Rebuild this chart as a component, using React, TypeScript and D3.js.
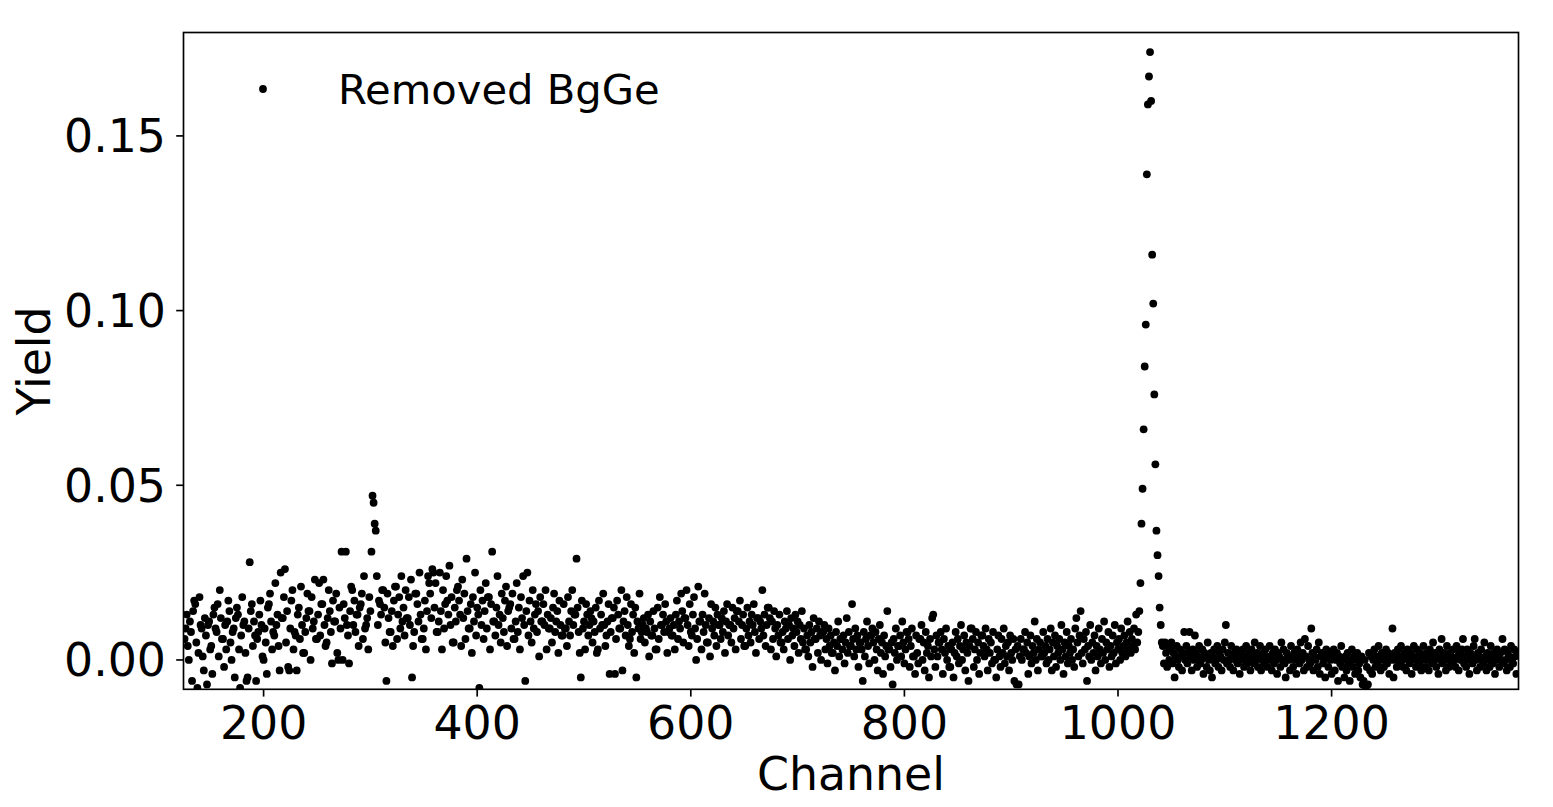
import React from "react";
import * as d3 from "d3";

// Each segment starts at the given channel, one value per channel.

const bgLowStart = 126;
const bgLow = [
  6, 9, 13, 4, 0, 11, 8, -6, 14, 17, 16, 5, -8, 2, 18, 10, 9, 1, -3, 12, 7, -7, 10, 11, 3,
  4, -4, 13, 15, 9, 8, 16, 1, 20, 12, 6, 6, -2, 10, 3, 11, 17, 14, 5, 0, 8, 9, -5, 12, 15,
  13, 3, -8, 7, 18, 10, 11, 2, -6, -5, 9, 28, 14, 16, 4, 11, 7, -6, 6, 8, 13, 17, 10, 1, 0,
  9, 5, -4, 15, 16, 19, 11, 3, 8, 7, 22, 10, 13, 4, -3, 25, 12, 12, 18, 26, 5, 14, -2, -3, 9,
  17, 20, 3, 8, 7, -3, 13, 15, 6, 21, 10, 2, 2, 8, 12, 19, 14, 14, 0, 18, 9, 11, 23, 6, 6,
  13, 22, 7, 16, 16, 23, 10, 4, 5, 12, 20, 14, 8, -1, 17, 11, 11, 19, 2, 0, 15, 9, 31, 0, 16,
  12, 31, 10, 7, -1, 14, 21, 20, 10, 17, 8, 13, 13, 4, 15, 16, 19, 6, 24, 9, 10, 12, 3, 18, 14,
];

const bumpStart = 301;
const bump = [31, 47, 45, 39, 37];

const bgMidStart = 306;
const bgMid = [
  24, 10, 17, 16, 13, 20, 20, 15, 5, -6, 19, 12, 8, 8, 14, 4, 17, 21, 21, 6, 13, 18, 9, 24, 11,
  15, 7, 20, 12, 12, 18, 10, 23, -5, 4, 8, 19, 19, 16, 11, 25, 13, 6, 6, 9, 17, 3, 14, 24, 22,
  19, 12, 26, 25, 15, 22, 8, 8, 11, 25, 14, 3, 20, 9, 16, 24, 17, 13, 27, 10, 18, 5, 5, 15, 11,
  20, 21, 17, 13, 4, 23, 12, 19, 6, 29, 14, 9, 9, 16, 2, 18, 11, 25, 7, 15, 13, -8, 20, 10, 17,
  6, 14, 22, 9, 18, 18, 3, 16, 31, 11, 11, 7, 15, 24, 10, 13, 5, 19, 12, 8, 17, 21, 4, 14, 15,
  16, 9, 19, 6, 6, 11, 22, 8, 15, 3, 18, 12, 24, 10, -6, 14, 25, 7, 17, 11, 5, 20, 9, 13, 16,
  8, 14, 1, 18, 11, 11, 16, 10, 20, 3, 13, 9, 9, 12, 5, 15, 19, 8, 11, 14, 2, 17, 10, 7, 7,
  16, 9, 9, 4, 18, 11, 7, 14, 20, 10, 13, 13, 29, 15, 8, 2, -5, 17, 9, 11, 3, 16, 13, 7, 10,
  14, 12, 5, 11, 8, 15, 2, 3, 17, 9, 13, 10, 19, 10, 4, 7, 11, 16, -4, 8, 12, 12, 15, -4, 6,
  17, 13, 9, 9, 20, -3, 11, 14, 7, 18, 10, 4, 6, 16, 8, 13, 2, 15, -5, 11, 9, 19, 6, 8, 10,
  12, 5, 9, 8, 13, 1, 11, 7, 7, 14, 9, 3, 3, 15, 6, 18, 10, 10, 13, 8, 16, 11, 2, 8, 9,
  12, 7, 7, 10, 3, 13, 17, 6, 11, 9, 19, 14, 5, 12, 12, 20, 10, 4, 16, 8, 7, 13, 18, 9, 0,
  6, 21, 11, 11, 3, 13, 8, 19, 10, 5, 5, 12, 1, 16, 9, 11, 7, 15, 4, 13, 10, 10, 6, 12, 8,
  14, 2, 11, 16, 7, 10, 10, 5, 15, 9, 12, 3, 14, 14, 11, 17, 6, 10, 13, 4, 4, 9, 15, 7, 11,
  5, 13, 10, 16, 8, 2, 12, 12, 6, 11, 9, 20, 7, 13, 4, 10, 15, 15, 12, 3, 11, 6, 14, 9, 1,
  10, 7, 13, 5, 5, 8, 3, 11, 9, 14, 6, 10, 0, 12, 7, 9, 4, 13, 8, 11, 2, 10, 6, 14, 5,
  9, 3, 3, 7, 1, 10, 5, 8, -2, 12, 6, 6, 9, 2, 11, 7, 0, 8, 8, 10, 3, 6, -1, 9, 4,
  7, 2, 2, 5, -3, 8, 4, 11, 1, 6, 6, 3, 7, -1, 5, 12, 2, 8, 4, 4, 16, 6, 1, 9, 3,
  7, -2, 5, 5, 3, -6, 8, 1, 6, 11, 4, -1, 7, 7, 9, 5, 0, 8, 3, -3, 6, 10, 2, 5, -4,
  7, 1, 4, 14, 3, 3, -2, 5, -7, 6, 2, 9, 0, 4, 4, 7, 1, 11, 5, -1, 3, 8, 8, 6, -2,
  4, 9, 1, 1, -4, 7, 2, -1, 6, 6, 10, 0, 5, -3, 8, 2, 4, -5, 6, 1, 12, 13, 3, -2, 7,
  1, 5, 5, 8, 3, -4, 6, 2, 9, 0, 4, -2, -2, 3, 5, -5, 2, 8, 1, 6, -1, 4, 10, 0, 3,
  7, -3, 5, 2, -6, 4, 9, 9, 6, -2, 3, 8, 0, 5, -4, 2, 7, 7, 4, 1, 9, 3, -3, 6, 2,
  5, -1, 8, 0, 0, -5, 3, 7, 1, -2, 6, 2, 9, -1, 4, 1, 5, -3, 7, 2, 0, 6, -6, 3, -7,
  4, -7, 1, 6, 0, 3, 3, 8, 2, 5, -4, 1, 7, -1, 4, 2, 11, 0, 6, -3, 3, 5, 1, 1, 8,
  2, 4, -1, 6, 0, 3, 9, -3, 5, 1, 7, -2, 4, 2, 6, 0, 10, 3, -4, 5, 1, 8, -1, 4, 2,
  6, 0, 3, -2, 9, 12, 5, 1, 7, 14, 2, -1, 6, 3, 8, -6, 4, 1, 10, 0, 5, 2, 7, -3, 4,
  1, 9, 3, -1, 6, 2, 11, 0, 5, 3, 8, -2, 4, 1, 7, 2, 10, -1, 5, 3, 6, 0, 9, 2, 4,
];

const prePeakStart = 1006;
const prePeak = [7, 1, 5, 11, 3, 8, 2, 6, 4, 9, 3, 13, 5, 8];

const peakStart = 1020;
const peak = [14, 22, 39, 49, 66, 84, 96, 139, 159, 167, 174, 160, 116, 102, 76, 56, 37, 30, 24, 15];

const tailStart = 1040;
const tail = [
  10, 5, 4, -1, 5, 2, -2, 4, 0, 3, 5, -1, 2, -5, 1, 4, 0, -2, 3, 1, -3, 2, 8, 0, 4,
  -1, 2, 8, 1, -3, 3, 0, 7, 2, -2, 1, 4, -1, 0, 3, -4, 2, 1, -2, 5, 0, -3, 2, -5, 1,
  3, -1, 0, 4, -2, 2, 1, -3, 3, 0, 5, 10, -1, 2, 0, -2, 4, 1, -3, 2, 0, 3, -1, 1, -4,
  2, 0, 3, -2, 1, 4, -1, 0, 2, -3, 3, 1, -1, 5, 0, 2, -2, 1, 4, -3, 0, 2, -1, 3, 1,
  -2, 0, 4, 1, -3, 2, -1, 3, 0, -4, 2, 1, -2, 5, 0, 3, -1, -5, 2, 1, 0, -3, 4, 1, -2,
  2, 0, -4, 3, 1, -1, 5, 0, 2, -3, 6, 1, -2, 4, 0, -1, 9, 2, -3, 1, 0, 3, -2, 5, -4,
  1, 2, -1, 0, -5, 3, 1, -2, 2, 0, -4, 1, 3, -3, 0, 2, -6, 1, -1, 4, -2, 0, -5, 1, -3,
  2, -1, -6, 0, 3, -2, 1, -4, 0, 2, -3, -1, -5, 1, -7, -6, 0, -8, -2, -7, 2, -3, 1, -4, 0,
  3, -2, 1, -1, 4, 0, -3, 2, 1, -2, 0, 3, -1, 2, -4, 1, 0, 9, -5, 2, 0, -2, 3, 1, -1,
  4, 0, -2, 2, 1, -3, 3, 0, -1, 2, -4, 1, 4, 0, -2, 3, 1, -1, 2, -3, 0, 4, 1, -2, 2,
  0, -3, 3, 1, -1, 5, 0, 2, -2, 1, -4, 3, 0, 6, -1, 2, 1, -3, 4, 0, -2, 2, 1, -1, 3,
  0, -2, 4, 1, -3, 2, 0, 3, 6, -1, 1, -2, 3, 0, -4, 2, 1, -1, 4, 6, 0, -3, 2, 1, -2,
  3, 0, -1, 5, 1, -3, 2, 0, -2, 4, 1, -1, 2, -4, 0, 3, 1, -2, 2, 0, 6, -1, 3, 0, -3,
  2, 1, -2, 4, 0, -1, 3, 1, -4, 2,
];

const segments: [number, number[]][] = [
  [bgLowStart, bgLow],
  [bumpStart, bump],
  [bgMidStart, bgMid],
  [prePeakStart, prePeak],
  [peakStart, peak],
  [tailStart, tail],
];

const xTicks = [200, 400, 600, 800, 1000, 1200];
const yTicks = [0, 0.05, 0.1, 0.15];
const legendLabel = "Removed BgGe";

type Pt = { channel: number; yield: number };
const points: Pt[] = segments.flatMap(([start, vals]) =>
  vals.map((v, i) => ({ channel: start + i, yield: v / 1000 }))
);

const W = 1553;
const H = 807;
const margin = { left: 183.5, right: 1518.5, top: 32.5, bottom: 689.3 };
const FONT = "DejaVu Sans, Verdana, sans-serif";
const FS = 45.8; // tick and axis labels
const LEGEND_FS = 41.67;
const TICK = 7.3;
const DOT_R = 3.9;

const App: React.FC = () => {
  const x = d3.scaleLinear().domain([125, 1375]).range([margin.left, margin.right]);
  const y = d3.scaleLinear().domain([-0.0084, 0.1796]).range([margin.bottom, margin.top]);
  const fmt = d3.format(".2f");

  return (
    <svg
      width={W}
      height={H}
      viewBox={`0 0 ${W} ${H}`}
      style={{ position: "absolute", left: 0, top: 0, background: "#fff" }}
    >
      <defs>
        <clipPath id="plotClip">
          <rect
            x={margin.left}
            y={margin.top}
            width={margin.right - margin.left}
            height={margin.bottom - margin.top}
          />
        </clipPath>
      </defs>

      <g clipPath="url(#plotClip)">
        {points.map((d, i) => (
          <circle key={i} cx={x(d.channel)} cy={y(d.yield)} r={DOT_R} fill="#000" />
        ))}
      </g>

      <rect
        x={margin.left}
        y={margin.top}
        width={margin.right - margin.left}
        height={margin.bottom - margin.top}
        fill="none"
        stroke="#000"
        strokeWidth={1.67}
      />

      {xTicks.map((t) => (
        <g key={t}>
          <line
            x1={x(t)}
            x2={x(t)}
            y1={margin.bottom}
            y2={margin.bottom + TICK}
            stroke="#000"
            strokeWidth={1.67}
          />
          <text
            x={x(t)}
            y={739}
            textAnchor="middle"
            fontFamily={FONT}
            fontSize={FS}
            fill="#000"
          >
            {t}
          </text>
        </g>
      ))}

      {yTicks.map((t) => (
        <g key={t}>
          <line
            x1={margin.left - TICK}
            x2={margin.left}
            y1={y(t)}
            y2={y(t)}
            stroke="#000"
            strokeWidth={1.67}
          />
          <text
            x={166}
            y={y(t) + 16.5}
            textAnchor="end"
            fontFamily={FONT}
            fontSize={FS}
            fill="#000"
          >
            {fmt(t)}
          </text>
        </g>
      ))}

      <text
        x={(margin.left + margin.right) / 2}
        y={790}
        textAnchor="middle"
        fontFamily={FONT}
        fontSize={FS}
        fill="#000"
      >
        Channel
      </text>
      <text
        transform={`translate(50, ${(margin.top + margin.bottom) / 2}) rotate(-90)`}
        textAnchor="middle"
        fontFamily={FONT}
        fontSize={FS}
        fill="#000"
      >
        Yield
      </text>

      <circle cx={263} cy={89} r={DOT_R} fill="#000" />
      <text x={338} y={104} fontFamily={FONT} fontSize={LEGEND_FS} fill="#000">
        {legendLabel}
      </text>
    </svg>
  );
};

export default App;
